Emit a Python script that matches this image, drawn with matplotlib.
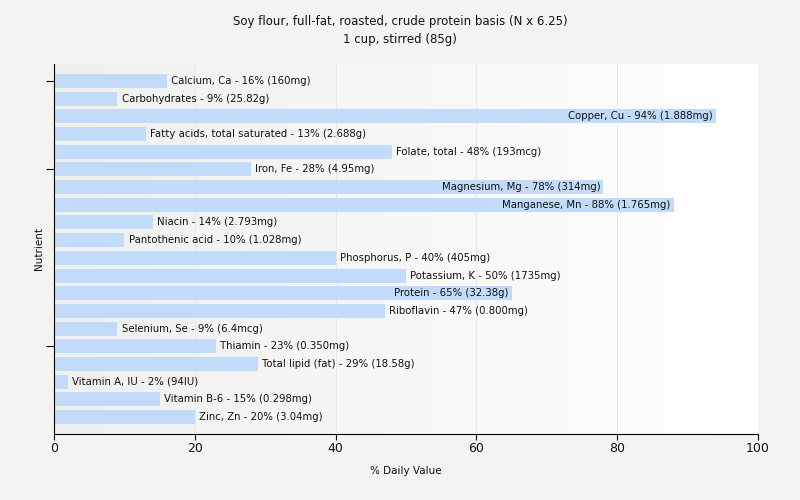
import matplotlib
matplotlib.use('Agg')
import matplotlib.pyplot as plt
import numpy as np

nutrients = ['Calcium, Ca', 'Carbohydrates', 'Copper, Cu', 'Fatty acids, total saturated',
             'Folate, total', 'Iron, Fe', 'Magnesium, Mg', 'Manganese, Mn', 'Niacin',
             'Pantothenic acid', 'Phosphorus, P', 'Potassium, K', 'Protein', 'Riboflavin',
             'Selenium, Se', 'Thiamin', 'Total lipid (fat)', 'Vitamin A, IU', 'Vitamin B-6',
             'Zinc, Zn']
values = [16, 9, 94, 13, 48, 28, 78, 88, 14, 10, 40, 50, 65, 47, 9, 23, 29, 2, 15, 20]
amounts = ['160mg', '25.82g', '1.888mg', '2.688g', '193mcg', '4.95mg', '314mg', '1.765mg',
           '2.793mg', '1.028mg', '405mg', '1735mg', '32.38g', '0.800mg', '6.4mcg', '0.350mg',
           '18.58g', '94IU', '0.298mg', '3.04mg']

bg = '#f3f3f2'
fig = plt.figure(figsize=(8, 5), dpi=100, facecolor=bg)
ax = fig.add_axes([54/800, 1-434/500, 704/800, 370/500])
ax.set_facecolor(bg)

# plot area gradient, grey on the left to white on the right
grad = np.linspace(0, 1, 256).reshape(1, -1)
cmap = matplotlib.colors.LinearSegmentedColormap.from_list('g', ['#f0f0ef', '#ffffff'])
ax.imshow(grad, extent=[0, 100, 19.95, -0.95], aspect='auto', cmap=cmap, zorder=0)

y = np.arange(len(nutrients))
ax.barh(y, values, height=0.79, color='#c2dbfa', zorder=2)

for i, (n, v, a) in enumerate(zip(nutrients, values, amounts)):
    txt = f'{n} - {v}% ({a})'
    if v >= 60:
        ax.text(v - 0.4, i, txt, ha='right', va='center', fontsize=7.3, color='#111111', zorder=3)
    else:
        ax.text(v + 0.6, i, txt, ha='left', va='center', fontsize=7.3, color='#111111', zorder=3)

ax.set_xlim(0, 100)
ax.set_ylim(19.95, -0.95)
ax.set_xticks([0, 20, 40, 60, 80, 100])
ax.set_yticks([0, 5, 15])
ax.set_yticklabels([])
ax.grid(axis='x', color='#e8e8e8', linewidth=0.7, zorder=1)
ax.set_axisbelow(True)
for s in ['top', 'right']:
    ax.spines[s].set_visible(False)
ax.tick_params(axis='x', labelsize=9, length=4, colors='#111111', pad=2)
ax.tick_params(axis='y', length=6)
ax.set_xlabel('% Daily Value', fontsize=7.5, color='#111111', labelpad=8)
ax.set_ylabel('Nutrient', fontsize=7.5, color='#111111', labelpad=-2)
fig.suptitle('Soy flour, full-fat, roasted, crude protein basis (N x 6.25)\n1 cup, stirred (85g)',
             fontsize=8.5, color='#111111', y=0.97, linespacing=1.45)

fig.savefig('out.png', dpi=100, facecolor=bg)
